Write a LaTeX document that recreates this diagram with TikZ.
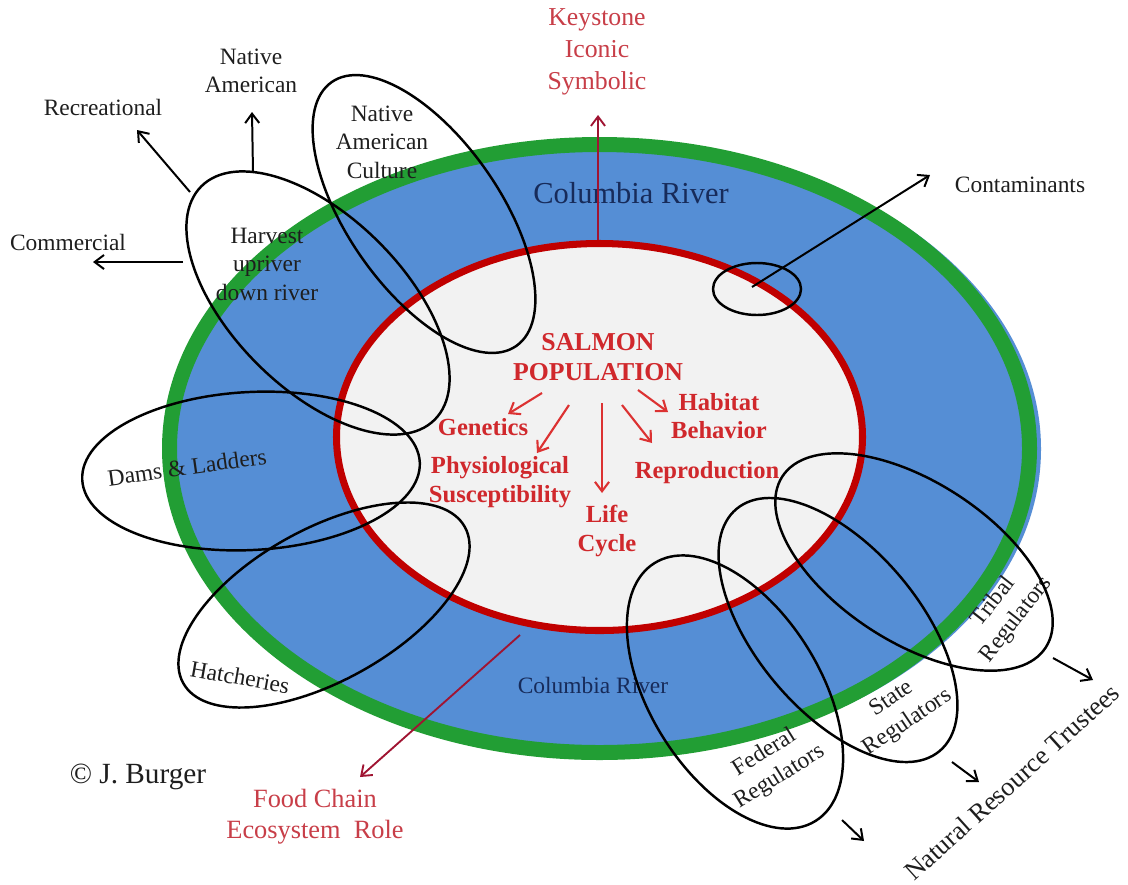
\documentclass[tikz,border=0pt]{standalone}
\usepackage{fontspec}
\setmainfont{Liberation Serif}
\usetikzlibrary{arrows.meta}
\definecolor{riverblue}{RGB}{85,142,213}
\definecolor{ringgreen}{RGB}{34,158,52}
\definecolor{ringred}{RGB}{192,0,0}
\definecolor{innergray}{RGB}{242,242,242}
\definecolor{salmonred}{RGB}{208,40,44}
\definecolor{lightred}{RGB}{200,62,72}
\definecolor{maroon}{RGB}{160,20,50}
\definecolor{arrowred}{RGB}{220,50,50}
\definecolor{rivertext}{RGB}{23,43,90}
\definecolor{labelblack}{RGB}{30,30,30}
\begin{document}
\begin{tikzpicture}[x=0.03cm,y=-0.03cm,
  ell/.style={draw=black, line width=2.1pt},
  lbl/.style={text=labelblack, align=center, inner sep=0pt, font=\fontsize{20}{24.3}\selectfont},
  ctr/.style={text=salmonred, align=center, inner sep=0pt, font=\bfseries\fontsize{21}{24.5}\selectfont},
  outred/.style={text=lightred, align=center, inner sep=0pt, font=\fontsize{22}{27.5}\selectfont},
  river/.style={text=rivertext, inner sep=0pt},
  arr/.style={draw=black, line width=1.7pt, -{Straight Barb[length=8pt,width=12pt,line width=1.7pt]}},
  redarr/.style={draw=arrowred, line width=1.8pt, -{Straight Barb[length=8pt,width=12pt,line width=1.8pt]}},
  maroonarr/.style={draw=maroon, line width=1.6pt, -{Straight Barb[length=8pt,width=12pt,line width=1.6pt]}}
]
\useasboundingbox[fill=white] (0,0) rectangle (1128,884);

% rings
\fill[riverblue] (604,449) ellipse [x radius=437, y radius=308];
\draw[ringgreen, line width=12.8pt] (599.5,448.5) ellipse [x radius=430, y radius=304];
\draw[ringred, line width=6pt, fill=innergray] (599.5,437) ellipse [x radius=263, y radius=193.5];

% river labels
\node[river, font=\fontsize{26}{30}\selectfont] (rivertop) at (631,193) {Columbia River};
\node[river, font=\fontsize{20}{24}\selectfont] (riverbot) at (593,685) {Columbia River};

% centre texts
\node[ctr, font=\bfseries\fontsize{22}{25.6}\selectfont] (salmon) at (598,357) {SALMON\\POPULATION};
\node[ctr] (genetics) at (483,427) {Genetics};
\node[ctr] (physio) at (500,482) {Physiological\\Susceptibility};
\node[ctr] (life) at (607,531) {Life\\Cycle};
\node[ctr] (habitat) at (719,416) {Habitat\\Behavior};
\node[ctr] (repro) at (707,473) {Reproduction};

% outer red texts
\node[outred] (keystone) at (597,52) {Keystone\\Iconic\\Symbolic};
\node[outred, font=\fontsize{22.5}{26.5}\selectfont] (food) at (315,817) {Food Chain\\Ecosystem\ \ Role};

% black labels
\node[lbl] (recreational) at (103,107) {Recreational};
\node[lbl] (nativeam) at (251,71) {Native\\American};
\node[lbl] (commercial) at (68,242) {Commercial};
\node[lbl] (nac) at (382,142) {Native\\American\\Culture};
\node[lbl] (harvest) at (267,264) {Harvest\\upriver\\down river};
\node[lbl, rotate=8] (dams) at (187,467) {Dams \& Ladders};
\node[lbl, rotate=-10] (hatch) at (240,677) {Hatcheries};
\node[lbl, rotate=32] (federal) at (772,765) {Federal\\Regulators};
\node[lbl, rotate=34] (state) at (900,711) {State\\Regulators};
\node[lbl, rotate=52] (tribal) at (1005,611) {Tribal\\Regulators};
\node[lbl, rotate=42, font=\fontsize{22.5}{27}\selectfont] (trustees) at (1012,782) {Natural Resource Trustees};
\node[lbl] (contam) at (1020,185) {Contaminants};
\node[lbl, font=\fontsize{25}{30}\selectfont] (copy) at (138,777) {© J. Burger};

% ellipses
\draw[ell, rotate around={-55:(424,214)}] (424,214) ellipse [x radius=161, y radius=76];
\draw[ell, rotate around={-45:(318,303)}] (318,303) ellipse [x radius=165, y radius=86];
\draw[ell, rotate around={3:(251,471)}] (251,471) ellipse [x radius=169, y radius=79];
\draw[ell, rotate around={29:(324,605)}] (324,605) ellipse [x radius=161, y radius=76];
\draw[ell, rotate around={-58:(735,692)}] (735,692) ellipse [x radius=152, y radius=85];
\draw[ell, rotate around={-50:(838,630)}] (838,630) ellipse [x radius=158, y radius=82];
\draw[ell, rotate around={-33:(914,562)}] (914,562) ellipse [x radius=157, y radius=80];
\draw[ell] (757,289) ellipse [x radius=44, y radius=26];

% arrow end points
\coordinate (recA) at (190,192); \coordinate (recB) at (137,130);
\coordinate (natA) at (253,172); \coordinate (natB) at (252,112);
\coordinate (comA) at (183,262); \coordinate (comB) at (93,262);
\coordinate (keyA) at (598,240); \coordinate (keyB) at (598,115);
\coordinate (fooA) at (520,635); \coordinate (fooB) at (360,777);
\coordinate (conA) at (752,287); \coordinate (conB) at (930,175);
\coordinate (fedA) at (842,820); \coordinate (fedB) at (864,841);
\coordinate (staA) at (952,762); \coordinate (staB) at (979,782);
\coordinate (triA) at (1053,658); \coordinate (triB) at (1093,680);
\coordinate (genA) at (542,393); \coordinate (genB) at (508,414);
\coordinate (phyA) at (569,405); \coordinate (phyB) at (537,453);
\coordinate (lifA) at (602,403); \coordinate (lifB) at (602,493);
\coordinate (repA) at (622,405); \coordinate (repB) at (652,443);
\coordinate (habA) at (638,390); \coordinate (habB) at (668,412);

\draw[arr] (recA) -- (recB);
\draw[arr] (natA) -- (natB);
\draw[arr] (comA) -- (comB);
\draw[arr] (conA) -- (conB);
\draw[arr] (fedA) -- (fedB);
\draw[arr] (staA) -- (staB);
\draw[arr] (triA) -- (triB);
\draw[maroonarr] (keyA) -- (keyB);
\draw[maroonarr] (fooA) -- (fooB);
\draw[redarr] (genA) -- (genB);
\draw[redarr] (phyA) -- (phyB);
\draw[redarr] (lifA) -- (lifB);
\draw[redarr] (repA) -- (repB);
\draw[redarr] (habA) -- (habB);
\end{tikzpicture}
\end{document}
